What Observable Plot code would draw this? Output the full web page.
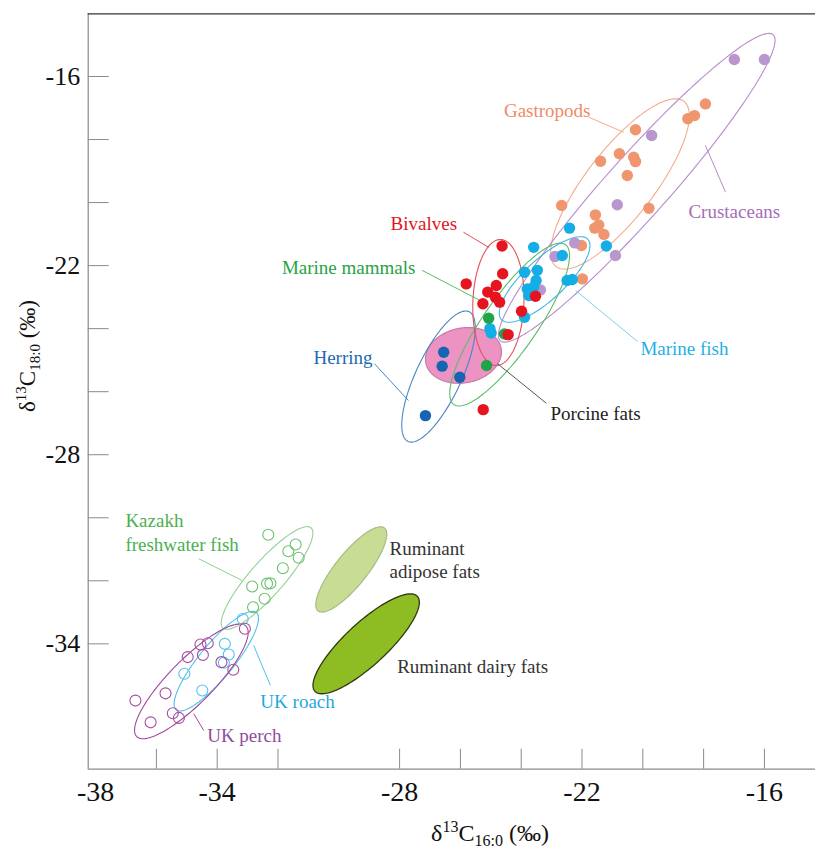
<!DOCTYPE html>
<html>
<head>
<meta charset="utf-8">
<script src="https://cdn.jsdelivr.net/npm/d3@7"></script>
<script src="https://cdn.jsdelivr.net/npm/@observablehq/plot@0.6"></script>
<style>
  html, body { margin: 0; padding: 0; background: #fff; }
  #chart svg { display: block; }
  #chart svg text { font-family: "Liberation Serif", "Times New Roman", serif; }
</style>
</head>
<body>
<div id="chart"></div>
<script>
// ---------- data (δ13C16:0, δ13C18:0) ----------
const gastropods = [[-17.94,-16.87],[-18.30,-17.24],[-18.52,-17.34],[-20.24,-17.69],[-21.39,-18.69],[-20.77,-18.45],[-20.30,-18.56],[-20.24,-18.70],[-20.51,-19.14],[-22.67,-20.09],[-19.80,-20.18],[-21.56,-20.39],[-21.45,-20.71],[-21.58,-20.81],[-21.28,-21.01],[-22.02,-21.36],[-21.99,-22.42]];
const crustaceans = [[-16.99,-15.46],[-16.00,-15.46],[-19.71,-17.87],[-20.84,-20.07],[-22.24,-21.28],[-22.89,-21.71],[-20.90,-21.68],[-23.37,-22.77]];
const marineFish = [[-23.59,-21.42],[-22.41,-20.81],[-21.20,-21.38],[-23.89,-22.21],[-23.47,-22.15],[-23.51,-22.47],[-23.80,-22.74],[-23.75,-22.95],[-22.65,-21.68],[-22.49,-22.47],[-22.32,-22.44],[-23.89,-23.64],[-25.03,-24.00],[-24.99,-24.14],[-23.59,-22.68]];
const marineMammals = [[-25.07,-23.67],[-25.14,-25.17],[-24.55,-24.17]];
const bivalves = [[-24.63,-21.38],[-24.61,-22.26],[-25.81,-22.58],[-24.82,-22.63],[-25.10,-22.84],[-24.85,-23.00],[-24.71,-23.16],[-25.26,-23.21],[-23.99,-23.45],[-23.53,-22.97],[-24.43,-24.19],[-25.25,-26.57]];
const herring = [[-26.55,-24.75],[-26.60,-25.19],[-26.02,-25.54],[-27.15,-26.76]];
const kazakhFish = [[-32.32,-30.54],[-31.42,-30.85],[-31.66,-31.06],[-31.32,-31.27],[-31.84,-31.60],[-32.85,-32.18],[-32.25,-32.08],[-32.36,-32.09],[-32.44,-32.57],[-32.82,-32.84]];
const ukRoach = [[-33.16,-33.21],[-33.75,-34.00],[-33.62,-34.34],[-33.78,-34.60],[-35.08,-34.95],[-34.49,-35.48]];
const ukPerch = [[-33.09,-33.52],[-34.31,-33.98],[-34.55,-34.02],[-34.97,-34.42],[-34.47,-34.35],[-33.86,-34.58],[-33.47,-34.82],[-35.70,-35.57],[-36.69,-35.80],[-35.46,-36.20],[-35.26,-36.35],[-36.19,-36.49]];

// ellipse parameters (centre, semi-axes in data units, orientation in degrees)
const ellipseNames = ["Crustaceans","Gastropods","Bivalves","Marine mammals","Marine fish","Herring","Porcine fats","Kazakh freshwater fish","UK roach","UK perch","Ruminant adipose fats","Ruminant dairy fats"];
const ellipseCx    = [-20.20,-20.75,-24.75,-24.38,-23.23,-26.72,-25.90,-32.36,-34.03,-34.85,-29.59,-29.10];
const ellipseCy    = [-19.53,-19.41,-23.17,-23.87,-22.44,-25.52,-24.85,-31.91,-34.55,-35.19,-31.64,-34.00];
const ellipseA     = [6.61,3.36,2.00,3.13,1.91,2.29,1.26,2.15,2.03,2.51,1.71,2.26];
const ellipseB     = [1.00,1.10,0.84,0.87,0.65,0.74,0.87,0.55,0.55,0.71,0.52,0.68];
const ellipseAngle = [47.2,51,87.7,54,41.6,63.8,10,47.5,49.3,44.1,50.1,41.6];

// axis ticks
const xTickValues = [-36,-34,-32,-28,-26,-24,-22,-20,-18,-16];
const xTickLabels = [-38,-34,-28,-22,-16];
const yTickValues = [-34,-32,-30,-28,-26,-24,-22,-20,-18,-16];
const yTickLabels = [-34,-28,-22,-16];

// annotations
const labelTexts = ["Gastropods","Crustaceans","Bivalves","Marine mammals","Herring","Marine fish","Porcine fats","Kazakh\nfreshwater fish","Ruminant\nadipose fats","Ruminant dairy fats","UK roach","UK perch"];
const labelX = [-21.72,-18.50,-26.11,-27.48,-28.89,-20.08,-23.04,-37.02,-28.33,-28.08,-32.58,-34.33];
const labelY = [-17.05,-20.25,-20.63,-22.03,-24.88,-24.60,-26.66,-30.44,-31.31,-34.70,-35.81,-36.88];
const labelAnchor = ["end","start","end","end","end","start","start","start","start","start","start","start"];
const leaderFrom = [[-21.78,-17.29],[-17.28,-19.67],[-25.90,-20.94],[-27.26,-22.15],[-28.83,-25.11],[-20.17,-24.41],[-23.17,-26.37],[-34.61,-31.30],null,null,[-32.25,-35.32],[-34.44,-36.75]];
const leaderTo   = [[-20.63,-17.77],[-17.94,-18.19],[-25.07,-21.42],[-25.17,-23.20],[-27.71,-26.28],[-22.21,-22.79],[-24.78,-25.11],[-33.18,-31.99],null,null,[-32.80,-34.05],[-34.77,-36.22]];

// ---------- styles ----------
const labelColors = ["#ef8a66","#a66db8","#e0141e","#27a243","#1b6ab3","#1fb0e6","#222222","#4caf50","#333333","#333333","#1fa9e1","#8e4c9e"];
const leaderColors = ["#f3a98c","#b58ac8","#e0525a","#5cbb6a","#4a86c5","#7fd0ee","#555555","#90d090",null,null,"#4ec0ea","#a2479e"];
const ellipseStroke = ["#b98ccb","#f3ab8f","#e0525a","#5cbb6a","#3fb6e2","#4a86c5","#c77aa6","#96d096","#4ec0ea","#a2479e","#a9b98a","#2f3a10"];
const ellipseFill = [null,null,null,null,null,null,"#ec93c4",null,null,null,"#c8dc94","#8dbd22"];

const XMIN = -38.243, XMAX = -14.32, YMIN = -37.977, YMAX = -14.011;
const serif = "Liberation Serif, Times New Roman, serif";

function ellipsePoints(i) {
  const th = ellipseAngle[i] * Math.PI / 180, pts = [];
  for (let k = 0; k <= 144; k++) {
    const t = 2 * Math.PI * k / 144;
    pts.push({
      x: ellipseCx[i] + ellipseA[i] * Math.cos(t) * Math.cos(th) - ellipseB[i] * Math.sin(t) * Math.sin(th),
      y: ellipseCy[i] + ellipseA[i] * Math.cos(t) * Math.sin(th) + ellipseB[i] * Math.sin(t) * Math.cos(th)
    });
  }
  return pts;
}

const filledOrder = [6, 10, 11];
const outlineOrder = [7, 8, 9, 1, 0, 5, 3, 2, 4];

const ellipseMarks = [];
for (const i of filledOrder) {
  ellipseMarks.push(Plot.line(ellipsePoints(i), {x: "x", y: "y", curve: "linear-closed", fill: ellipseFill[i], stroke: ellipseStroke[i], strokeWidth: i === 11 ? 1.3 : 1.2}));
}
for (const i of outlineOrder) {
  ellipseMarks.push(Plot.line(ellipsePoints(i), {x: "x", y: "y", curve: "linear-closed", fill: "none", stroke: ellipseStroke[i], strokeWidth: 1.1}));
}

const filledGroups = [
  [gastropods, "#f0966e"],
  [crustaceans, "#b996cd"],
  [marineFish, "#14aee6"],
  [marineMammals, "#1fa447"],
  [bivalves, "#e6141e"],
  [herring, "#1665b2"]
];
const openGroups = [
  [kazakhFish, "#6cc06c"],
  [ukRoach, "#55c1ec"],
  [ukPerch, "#a44ea0"]
];

const dotMarks = [];
for (const [data, c] of openGroups) {
  dotMarks.push(Plot.dot(data, {x: d => d[0], y: d => d[1], r: 5.5, stroke: c, fill: "none", strokeWidth: 1.1}));
}
for (const [data, c] of filledGroups) {
  dotMarks.push(Plot.dot(data, {x: d => d[0], y: d => d[1], r: 5.7, fill: c, stroke: "none"}));
}

const leaders = [];
leaderFrom.forEach((f, i) => { if (f) leaders.push({x1: f[0], y1: f[1], x2: leaderTo[i][0], y2: leaderTo[i][1], c: leaderColors[i]}); });

const labels = labelTexts.map((t, i) => ({text: t, x: labelX[i], y: labelY[i], anchor: labelAnchor[i], c: labelColors[i]}));

const fmt = d => String(d); // plain hyphen-minus, as in the original

const svg = Plot.plot({
  width: 815,
  height: 849,
  marginLeft: 87.7,
  marginRight: 0,
  marginTop: 13.3,
  marginBottom: 80.3,
  style: {fontFamily: serif, color: "#111", background: "#fff"},
  x: {domain: [XMIN, XMAX]},
  y: {domain: [YMIN, YMAX]},
  marks: [
    ...ellipseMarks,
    Plot.link(leaders, {x1: "x1", y1: "y1", x2: "x2", y2: "y2", stroke: d => d.c, strokeWidth: 1}),
    ...dotMarks,
    Plot.text(labels.filter(d => d.anchor === "start"), {x: "x", y: "y", text: "text", fill: d => d.c, textAnchor: "start", fontSize: 19, lineHeight: 1.22, fontFamily: serif}),
    Plot.text(labels.filter(d => d.anchor === "end"), {x: "x", y: "y", text: "text", fill: d => d.c, textAnchor: "end", fontSize: 19, lineHeight: 1.22, fontFamily: serif}),
    Plot.axisX(xTickValues, {anchor: "bottom", tickSize: -20, tickFormat: () => "", stroke: "#8a8a8a", label: null}),
    Plot.axisX(xTickLabels, {anchor: "bottom", tickSize: 0, tickPadding: 12, fontSize: 28, tickFormat: fmt, label: null, fill: "#111"}),
    Plot.axisY(yTickValues, {anchor: "left", tickSize: -21, tickFormat: () => "", stroke: "#8a8a8a", label: null}),
    Plot.axisY(yTickLabels, {anchor: "left", tickSize: 0, tickPadding: 8, fontSize: 26, tickFormat: fmt, label: null, fill: "#111"}),
    Plot.ruleX([XMIN], {stroke: "#8a8a8a", strokeWidth: 1.2}),
    Plot.ruleY([YMIN], {stroke: "#8a8a8a", strokeWidth: 1.2}),
    Plot.ruleY([YMAX], {stroke: "#333", strokeWidth: 1.2})
  ]
});

// axis titles with sub/superscripts
const s = d3.select(svg);
const xt = s.append("text").attr("x", 490).attr("y", 841).attr("text-anchor", "middle")
  .attr("font-family", serif).attr("font-size", 24).attr("fill", "#111");
xt.append("tspan").text("δ");
xt.append("tspan").attr("font-size", 16).attr("dy", -9).text("13");
xt.append("tspan").attr("dy", 9).text("C");
xt.append("tspan").attr("font-size", 16).attr("dy", 5).text("16:0");
xt.append("tspan").attr("dy", -5).text(" (‰)");

const yt = s.append("text").attr("transform", "translate(35,356) rotate(-90)").attr("text-anchor", "middle")
  .attr("font-family", serif).attr("font-size", 23).attr("fill", "#111");
yt.append("tspan").text("δ");
yt.append("tspan").attr("font-size", 15).attr("dy", -9).text("13");
yt.append("tspan").attr("dy", 9).text("C");
yt.append("tspan").attr("font-size", 15).attr("dy", 5).text("18:0");
yt.append("tspan").attr("dy", -5).text(" (‰)");

document.getElementById("chart").appendChild(svg);
</script>
</body>
</html>
